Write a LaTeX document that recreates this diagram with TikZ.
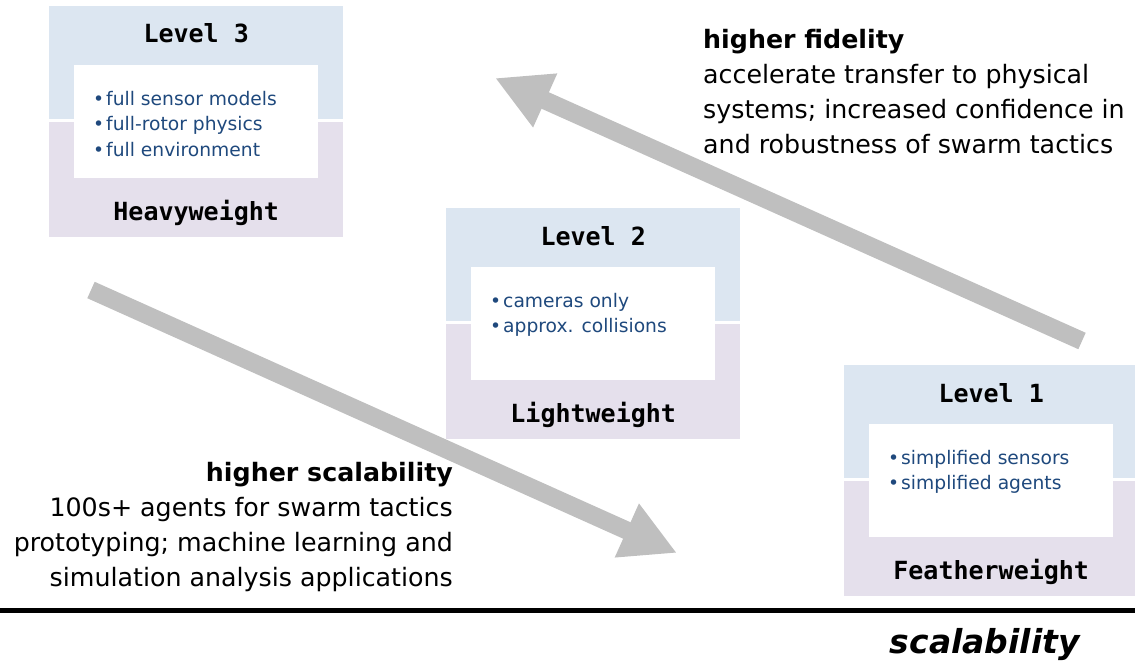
\documentclass[tikz,border=0pt]{standalone}
\usepackage{fontspec}
\setmainfont{DejaVu Sans}
\setmonofont{DejaVu Sans Mono}
\usetikzlibrary{arrows.meta,positioning}
\definecolor{azulnivel}{HTML}{DCE6F1}
\definecolor{lilasnivel}{HTML}{E5E0EC}
\definecolor{textoazul}{HTML}{1F497D}
\definecolor{setacinza}{HTML}{BFBFBF}
\newcommand{\marca}{\textbullet\hspace{2pt}}

\begin{document}
\begin{tikzpicture}[x=1pt, y=-1pt,
topo/.style={fill=azulnivel, minimum width=294pt, minimum height=113pt, inner sep=0pt, anchor=north west},
base/.style={fill=lilasnivel, minimum width=294pt, minimum height=115pt, inner sep=0pt},
caixa/.style={fill=white, minimum width=244pt, minimum height=113pt, inner sep=0pt, anchor=north west},
nivel/.style={anchor=base, inner sep=0pt, font=\fontsize{25}{25}\selectfont\ttfamily\bfseries},
lista/.style={anchor=north west, align=left, inner sep=0pt, text=textoazul, font=\fontsize{18.7}{25.5}\selectfont},
nota/.style={inner sep=0pt, font=\fontsize{25.3}{35}\selectfont},
seta/.style={-{Triangle[width=55pt,length=55pt]}, line width=18pt, draw=setacinza}
]
\useasboundingbox (0,0) rectangle (1135,663);

% Level 3
\node[topo] (n3topo) at (49,6) {};
\node[base, below=2pt of n3topo] (n3base) {};
\node[caixa] (n3caixa) at ([xshift=25pt,yshift=-59pt]n3topo.north west) {};
\node[nivel] (n3titulo) at ([yshift=-37pt]n3topo.north) {Level 3};
\node[nivel] (n3peso) at ([yshift=16pt]n3base.south) {Heavyweight};
\node[lista] (n3lista) at ([xshift=19pt,yshift=-26pt]n3caixa.north west) {\marca full sensor models\\\marca full-rotor physics\\\marca full environment};

% Level 2
\node[topo] (n2topo) at (446,208) {};
\node[base, below=2pt of n2topo] (n2base) {};
\node[caixa] (n2caixa) at ([xshift=25pt,yshift=-59pt]n2topo.north west) {};
\node[nivel] (n2titulo) at ([yshift=-37pt]n2topo.north) {Level 2};
\node[nivel] (n2peso) at ([yshift=16pt]n2base.south) {Lightweight};
\node[lista] (n2lista) at ([xshift=19pt,yshift=-26pt]n2caixa.north west) {\marca cameras only\\\marca approx. collisions};

% Level 1
\node[topo] (n1topo) at (844,365) {};
\node[base, below=2pt of n1topo] (n1base) {};
\node[caixa] (n1caixa) at ([xshift=25pt,yshift=-59pt]n1topo.north west) {};
\node[nivel] (n1titulo) at ([yshift=-37pt]n1topo.north) {Level 1};
\node[nivel] (n1peso) at ([yshift=16pt]n1base.south) {Featherweight};
\node[lista] (n1lista) at ([xshift=19pt,yshift=-26pt]n1caixa.north west) {\marca simplified sensors\\\marca simplified agents};

% setas
\coordinate (fidinicio) at (1082,341);
\coordinate (fidponta) at (495,78);
\coordinate (escinicio) at (91,290);
\coordinate (escponta) at (677,553);
\draw[seta] (fidinicio) -- (fidponta);
\draw[seta] (escinicio) -- (escponta);

\node[nota, anchor=north west, align=left] (fidelidade) at (703,29) {\textbf{higher fidelity}\\accelerate transfer to physical\\systems; increased confidence in\\and robustness of swarm tactics};
\node[nota, anchor=north east, align=right] (escala) at (453,462) {\textbf{higher scalability}\\100s+ agents for swarm tactics\\prototyping; machine learning and\\simulation analysis applications};

\draw[line width=5pt] (0,610) -- (1135,610);
\node[anchor=base east, inner sep=0pt, font=\fontsize{33}{33}\selectfont\bfseries\itshape] (eixo) at (1080,653) {scalability};
\end{tikzpicture}
\end{document}
